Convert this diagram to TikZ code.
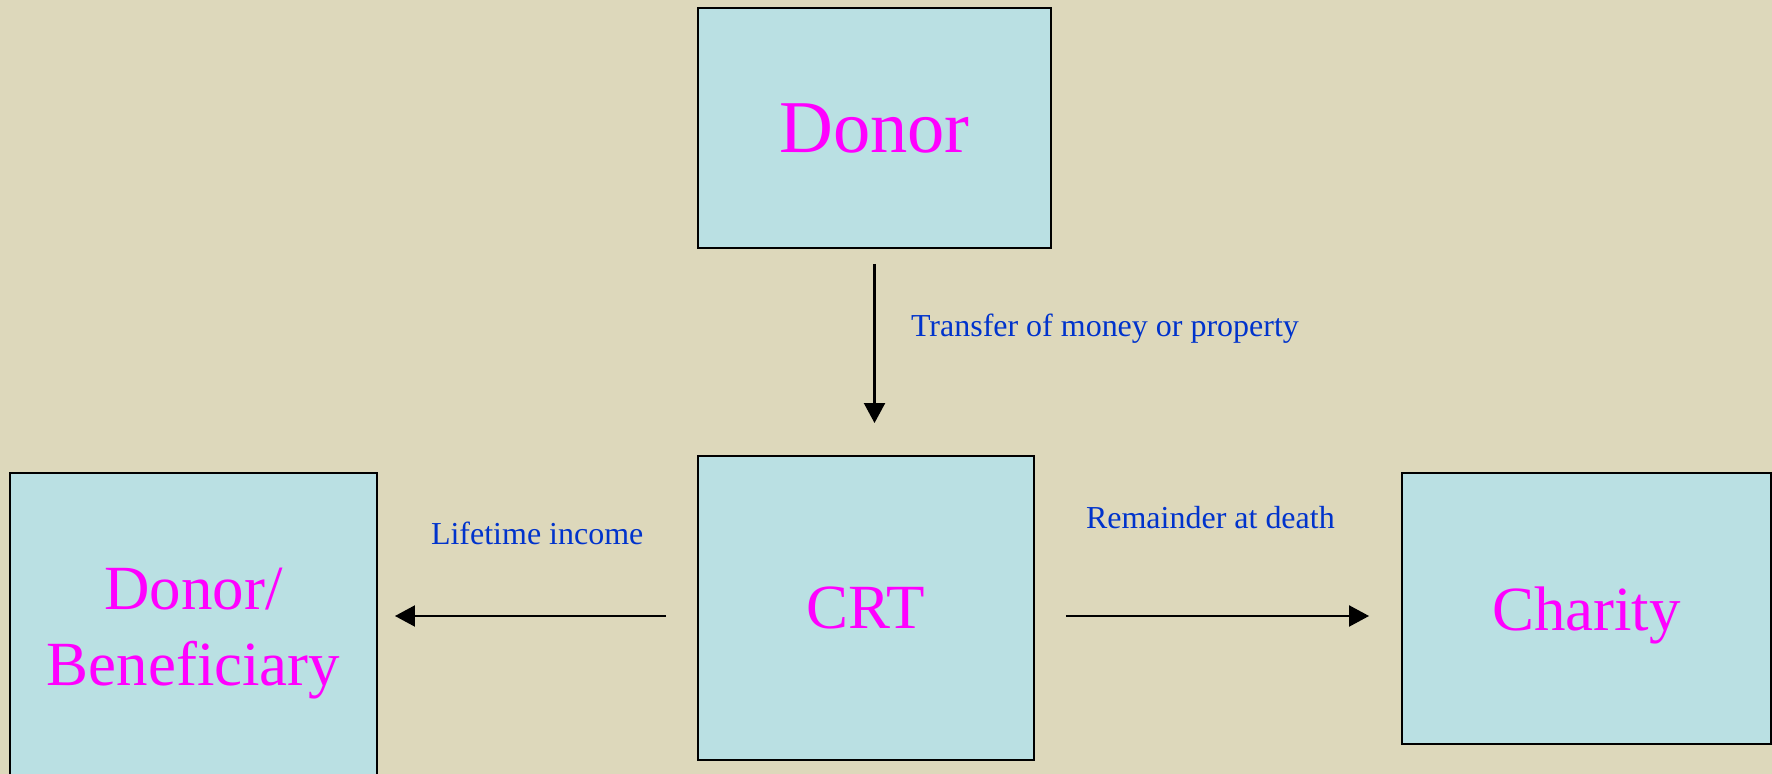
\documentclass[tikz,border=0pt]{standalone}
\usepackage{fontspec}
\setmainfont{Liberation Serif}
\usetikzlibrary{arrows.meta}
\definecolor{paper}{RGB}{221,216,187}
\definecolor{boxfill}{RGB}{186,224,227}
\definecolor{namecol}{RGB}{255,0,255}
\definecolor{flowcol}{RGB}{0,51,204}
\begin{document}
\begin{tikzpicture}[party/.style={draw,fill=boxfill,text=namecol,line width=.55pt,inner sep=0pt,text depth=0pt,align=center,font=\fontsize{17.9}{21.6}\selectfont},
flowtext/.style={text=flowcol,inner sep=0pt,anchor=base west,font=\fontsize{9.1}{11}\selectfont},
line width=.6pt,>={Triangle[width=2.1mm,length=2mm]},x=.1mm,y=-.1mm]
\fill[paper] (0,0) rectangle (1772,774);
\clip (0,0) rectangle (1772,774);

\node[party,minimum width=35.3mm,minimum height=24mm,font=\fontsize{21.2}{24}\selectfont] (donor) at (874.5,128) {Donor};
\node[party,minimum width=33.6mm,minimum height=30.4mm] (crt) at (866,608) {CRT};
\node[party,minimum width=36.7mm,minimum height=30.7mm] (benef) at (193.5,626.5) {Donor/\\Beneficiary};
\node[party,minimum width=36.9mm,minimum height=27.1mm] (charity) at (1586.5,608.5) {Charity};

\draw[->,shorten <=1.5mm,shorten >=3.2mm] (donor.south) -- (donor.south |- crt.north);
\draw[->,shorten <=3.1mm,shorten >=1.7mm] ([yshift=-.8mm]crt.west) -- ([yshift=-.8mm]crt.west -| benef.east);
\draw[->,shorten <=3.1mm,shorten >=3.2mm] ([yshift=-.8mm]crt.east) -- ([yshift=-.8mm]crt.east -| charity.west);

\node[flowtext] (transfer) at (910,337) {Transfer of money or property};
\node[flowtext] (income) at (430,545) {Lifetime income};
\node[flowtext] (remainder) at (1085,529) {Remainder at death};
\end{tikzpicture}
\end{document}
